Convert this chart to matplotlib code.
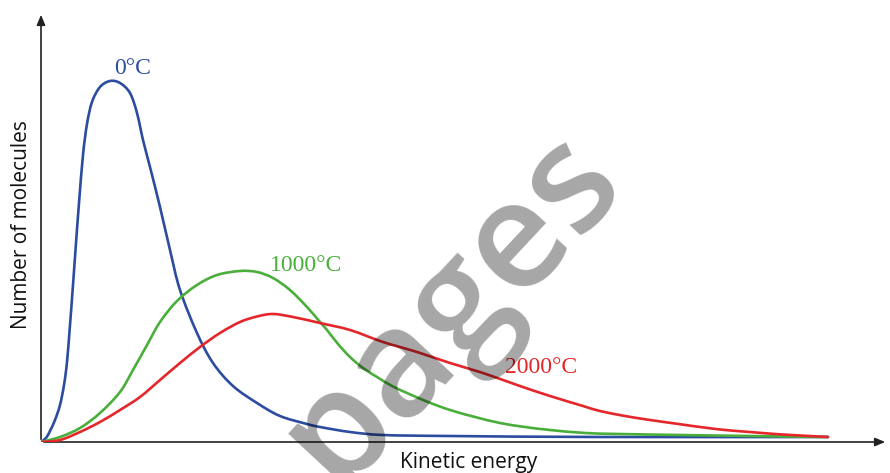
import numpy as np
import matplotlib.pyplot as plt
from matplotlib.path import Path
from matplotlib.patches import PathPatch

# curves (energy, number of molecules), arbitrary units
blue_x = [0, 5, 9, 14, 19, 23, 26, 29, 32, 35, 38, 42, 46, 51, 59, 69, 79, 89, 96, 102, 109, 119,
          129, 139, 156, 172, 192, 216, 239, 266, 279, 309, 342, 409, 559, 787]
blue_y = [0, 4, 11, 22, 37, 57, 80, 117, 157, 199, 239, 287, 318, 340, 355, 361, 359, 349, 329,
          302, 275, 235, 192, 152, 109, 79, 56, 39, 26, 18, 15, 10, 7, 6, 5, 5]

green_x = [0, 19, 39, 59, 79, 92, 106, 119, 136, 156, 176, 199, 216, 232, 249, 266, 279, 286,
           297, 309, 322, 336, 351, 366, 387, 409, 434, 459, 484, 509, 544, 579, 639, 709, 787]
green_y = [0, 5, 14, 29, 50, 72, 97, 120, 141, 157, 167, 171, 170, 164, 152, 135, 120, 112, 98,
           85, 74, 65, 56, 49, 40, 32, 25, 19, 15, 12, 9, 8, 7, 6, 5]

red_x = [0, 19, 39, 59, 79, 99, 119, 139, 159, 179, 199, 216, 232, 252, 279, 309, 342, 376, 409,
         442, 476, 509, 542, 559, 584, 609, 634, 659, 684, 709, 734, 759, 787]
red_y = [0, 2, 10, 20, 32, 45, 62, 79, 95, 109, 120, 125.5, 128, 125, 119, 112, 100, 90, 79, 69,
         57, 46, 36, 31, 26, 22, 18.5, 15, 12, 10, 8, 6.5, 5]

labels = ["0°C", "1000°C", "2000°C"]
label_pos = [(92, 374), (265, 177), (500, 75)]
colors = ["#2b4c9f", "#4aae3a", "#e5262a"]


def smooth_path(x, y):
    # catmull-rom through the read points, drawn as cubic bezier segments
    p = np.column_stack([x, y]).astype(float)
    verts = [p[0]]
    codes = [Path.MOVETO]
    for i in range(len(p) - 1):
        p0 = p[i - 1] if i > 0 else p[i]
        p1, p2 = p[i], p[i + 1]
        p3 = p[i + 2] if i + 2 < len(p) else p[i + 1]
        verts += [p1 + (p2 - p0) / 6, p2 - (p3 - p1) / 6, p2]
        codes += [Path.CURVE4] * 3
    return Path(verts, codes)


W, H = 890, 473
fig = plt.figure(figsize=(W / 100, H / 100), dpi=100)
ax = fig.add_axes([41 / W, (H - 442) / H, 847 / W, 430 / H])
ax.set_xlim(0, 847)
ax.set_ylim(0, 430)
ax.axis("off")

for (x, y), c in zip([(blue_x, blue_y), (green_x, green_y), (red_x, red_y)], colors):
    ax.add_patch(PathPatch(smooth_path(x, y), fill=False, edgecolor=c, lw=1.9,
                           joinstyle="round", capstyle="round", zorder=3))

for t, (x, y), c in zip(labels, label_pos, colors):
    ax.text(x, y, t, color=c, fontsize=17, family="Liberation Serif",
            ha="center", va="center", zorder=4)

# axes with arrows
ax.annotate("", xy=(1, 0), xytext=(0, 0), xycoords="axes fraction",
            arrowprops=dict(arrowstyle="-|>,head_length=0.6,head_width=0.25",
                            color="#222222", lw=1.2), zorder=2)
ax.annotate("", xy=(0, 1), xytext=(0, 0), xycoords="axes fraction",
            arrowprops=dict(arrowstyle="-|>,head_length=0.6,head_width=0.25",
                            color="#222222", lw=1.2), zorder=2)

fig.text(469 / W, 1 - 462 / H, "Kinetic energy", ha="center", va="center",
         fontsize=15, family="Open Sans", color="#111111")
fig.text(22 / W, 1 - 225 / H, "Number of molecules", ha="center", va="center",
         rotation=90, fontsize=15, family="Open Sans", color="#111111")

# watermark
fig.text(452 / W, 1 - 308 / H, "pages", ha="center", va="center", rotation=47,
         rotation_mode="anchor", fontsize=108, family="Open Sans", fontweight="semibold",
         color="black", alpha=0.35, zorder=10)

fig.savefig("out.png", dpi=100)
